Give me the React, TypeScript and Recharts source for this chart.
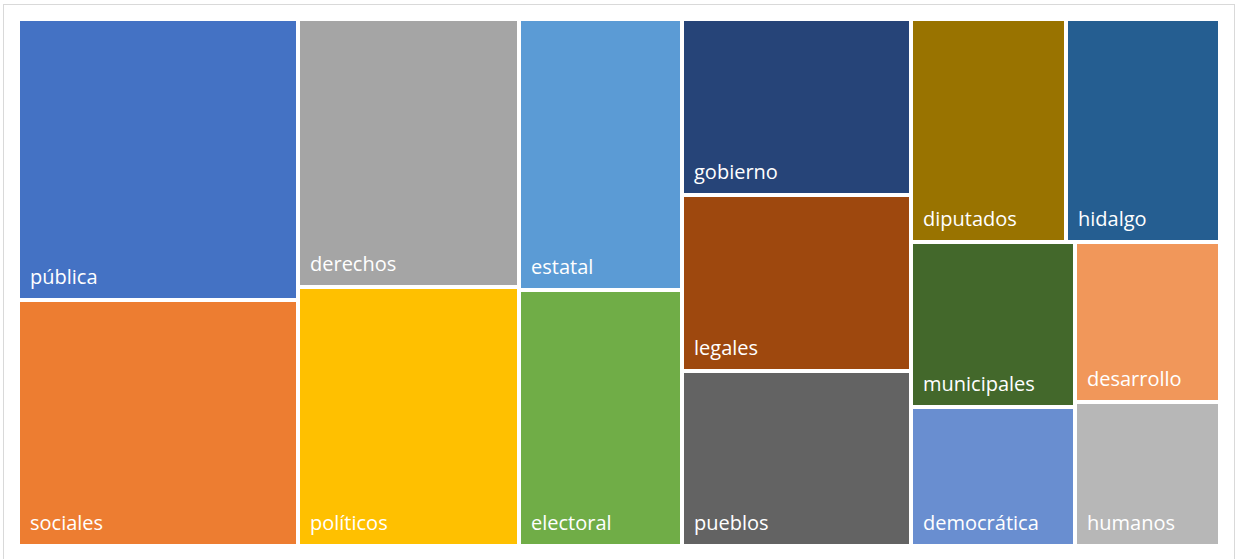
import { Treemap } from "recharts";

const words = [
  "pública",
  "sociales",
  "derechos",
  "políticos",
  "estatal",
  "electoral",
  "gobierno",
  "legales",
  "pueblos",
  "diputados",
  "hidalgo",
  "municipales",
  "democrática",
  "desarrollo",
  "humanos",
];

const counts = [78.7, 68.9, 59.3, 57.1, 44.1, 41.8, 40.4, 40.4, 40.0, 34.6, 34.2, 27.2, 22.8, 23.1, 20.9];

const colors = [
  "#4472C4",
  "#ED7D31",
  "#A5A5A5",
  "#FFC000",
  "#5B9BD5",
  "#70AD47",
  "#264478",
  "#9E480E",
  "#636363",
  "#997300",
  "#255E91",
  "#43682B",
  "#698ED0",
  "#F1975A",
  "#B7B7B7",
];

// groups that mirror how the cells are stacked in the picture
const leaf = (i: number) => ({ name: words[i], value: counts[i], color: colors[i] });
const group = (items: any[]) => ({ children: items });

const treeData = [
  group([leaf(0), leaf(1)]),
  group([
    group([leaf(2), leaf(3)]),
    group([
      group([leaf(4), leaf(5)]),
      group([
        group([leaf(6), leaf(7), leaf(8)]),
        group([
          group([leaf(9), leaf(10)]),
          group([group([leaf(11), leaf(12)]), group([leaf(13), leaf(14)])]),
        ]),
      ]),
    ]),
  ]),
];

const GAP = 2;

function renderCell(props: any) {
  const { x, y, width, height, name, color, children } = props;
  if (children && children.length) return <g />;
  return (
    <g>
      <rect
        x={x + GAP}
        y={y + GAP}
        width={Math.max(0, width - GAP * 2)}
        height={Math.max(0, height - GAP * 2)}
        fill={color}
      />
      <text
        x={x + 12}
        y={y + height - 16}
        fill="#ffffff"
        fontSize={20}
        fontFamily="'Open Sans', sans-serif"
      >
        {name}
      </text>
    </g>
  );
}

export default function App() {
  return (
    <div
      style={{
        position: "absolute",
        left: 0,
        top: 0,
        width: 1235,
        height: 559,
        overflow: "hidden",
        background: "#ffffff",
      }}
    >
      <div
        style={{
          position: "absolute",
          left: 3,
          top: 4,
          width: 1230,
          height: 600,
          border: "1px solid #D9D9D9",
        }}
      />
      <div style={{ position: "absolute", left: 18, top: 19 }}>
        <Treemap
          width={1202}
          height={527}
          data={treeData}
          dataKey="value"
          aspectRatio={1}
          isAnimationActive={false}
          content={renderCell}
        />
      </div>
    </div>
  );
}
